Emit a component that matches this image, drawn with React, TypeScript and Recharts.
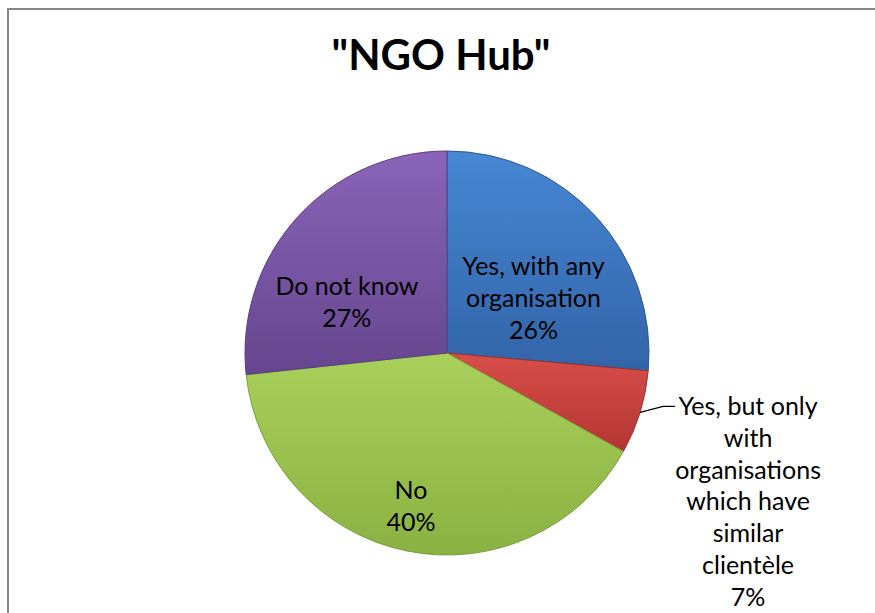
import React from "react";
import { PieChart, Pie, Cell } from "recharts";

// answers to the "NGO Hub" question, clockwise from 12 o'clock
const answers = [
  "Yes, with any organisation",
  "Yes, but only with organisations which have similar clientèle",
  "No",
  "Do not know",
];
const shares = [26.4, 6.7, 40.2, 26.7];
const labelLines = [
  ["Yes, with any", "organisation"],
  ["Yes, but only", "with", "organisations", "which have", "similar", "clientèle"],
  ["No"],
  ["Do not know"],
];

const topColors = ["#4787d4", "#d84e49", "#a9d05a", "#8a64b8"];
const bottomColors = ["#3264a8", "#b33632", "#8ab243", "#66468e"];
const edgeColors = ["#2c5892", "#9c302c", "#7b9e3a", "#5a3e7e"];

// where each label block sits, relative to the slice bisector
const labelSpots = [
  { r: 0.5, dx: 12, dy: 13, outside: false },
  { r: 1, dx: 37, dy: -6, outside: true },
  { r: 0.77, dx: -5, dy: 1, outside: false },
  { r: 0.54, dx: -19, dy: 22, outside: false },
];

const FONT = "Lato, 'Open Sans', sans-serif";
const RAD = Math.PI / 180;

const data = answers.map((name, i) => ({ name, value: shares[i] }));

const renderLabel = (props: any) => {
  const { cx, cy, midAngle, outerRadius, percent, index } = props;
  const spot = labelSpots[index];
  const px = cx + outerRadius * spot.r * Math.cos(-midAngle * RAD);
  const py = cy + outerRadius * spot.r * Math.sin(-midAngle * RAD);
  const lines = [...labelLines[index], `${Math.round(percent * 100)}%`];
  const x = px + spot.dx;
  const y = py + spot.dy;

  if (spot.outside) {
    const lh = 31.7;
    return (
      <g key={`lbl-${index}`}>
        <polyline
          points={`${px},${py} ${x - 14},${y} ${x - 2},${y}`}
          fill="none"
          stroke="#000"
          strokeWidth={1.3}
        />
        <text x={x + 71} y={y + 9} textAnchor="middle" fontFamily={FONT} fontSize={25} fill="#000">
          {lines.map((l, k) => (
            <tspan key={k} x={x + 71} dy={k === 0 ? 0 : lh}>
              {l}
            </tspan>
          ))}
        </text>
      </g>
    );
  }

  const lh = 32;
  const first = y - ((lines.length - 1) * lh) / 2 + 9;
  return (
    <text key={`lbl-${index}`} x={x} y={first} textAnchor="middle" fontFamily={FONT} fontSize={25} fill="#000">
      {lines.map((l, k) => (
        <tspan key={k} x={x} dy={k === 0 ? 0 : lh}>
          {l}
        </tspan>
      ))}
    </text>
  );
};

export default function App() {
  return (
    <div style={{ position: "fixed", left: 0, top: 0, width: 875, height: 613, background: "#fff", overflow: "hidden" }}>
      <div
        style={{
          position: "absolute",
          left: 7,
          top: 8,
          width: 900,
          height: 700,
          border: "2px solid #868686",
          boxSizing: "border-box",
        }}
      />
      <svg width={875} height={613} style={{ position: "absolute", left: 0, top: 0 }}>
        <text x={441} y={70} textAnchor="middle" fontFamily={FONT} fontWeight="bold" fontSize={42} fill="#000">
          "NGO Hub"
        </text>
      </svg>
      <div style={{ position: "absolute", left: 0, top: 0 }}>
        <PieChart width={875} height={613} margin={{ top: 0, right: 0, bottom: 0, left: 0 }}>
          <defs>
            {topColors.map((c, i) => (
              <linearGradient key={i} id={`slice-grad-${i}`} x1="0" y1="0" x2="0" y2="1">
                <stop offset="0%" stopColor={c} />
                <stop offset="100%" stopColor={bottomColors[i]} />
              </linearGradient>
            ))}
          </defs>
          <Pie
            data={data}
            dataKey="value"
            nameKey="name"
            cx={447}
            cy={353}
            outerRadius={202}
            startAngle={90}
            endAngle={-270}
            label={renderLabel}
            labelLine={false}
            isAnimationActive={false}
          >
            {data.map((d, i) => (
              <Cell key={d.name} fill={`url(#slice-grad-${i})`} stroke={edgeColors[i]} strokeWidth={1} />
            ))}
          </Pie>
        </PieChart>
      </div>
    </div>
  );
}
